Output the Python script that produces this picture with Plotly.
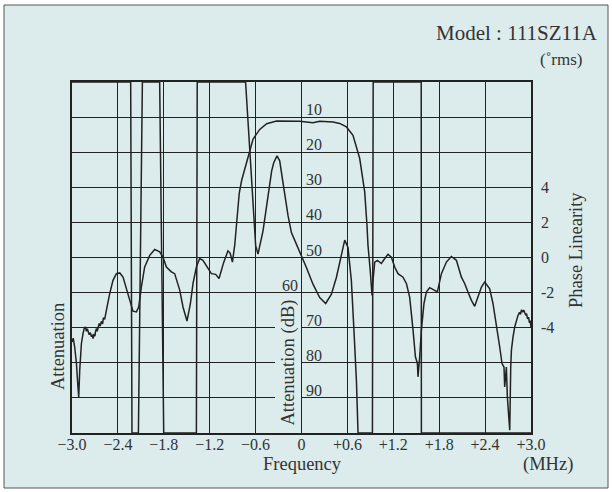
import plotly.graph_objects as go

# ---------------- data ----------------
FREQ_TICKS = [-3.0, -2.4, -1.8, -1.2, -0.6, 0.0, 0.6, 1.2, 1.8, 2.4, 3.0]
FREQ_TICK_TEXT = ["\u22123.0", "\u22122.4", "\u22121.8", "\u22121.2", "\u22120.6", "0",
                  "+0.6", "+1.2", "+1.8", "+2.4", "+3.0"]
ATT_LABELS = [10, 20, 30, 40, 50, 60, 70, 80, 90]
PHASE_TICKS = [-4, -2, 0, 2, 4]
PHASE_TICK_TEXT = ["-4", "-2", "0", "2", "4"]

# Attenuation (dB) vs frequency (MHz)
att_freq = [-3.000, -2.984, -2.965, -2.942, -2.922, -2.912, -2.899, -2.877, -2.856, -2.840,
            -2.825, -2.812, -2.800, -2.791, -2.775, -2.760, -2.746, -2.735, -2.725, -2.712,
            -2.700, -2.694, -2.680, -2.670, -2.660, -2.645, -2.632, -2.616, -2.600, -2.590,
            -2.573, -2.560, -2.550, -2.507, -2.464, -2.420, -2.376, -2.333, -2.289, -2.246,
            -2.203, -2.158, -2.128, -2.093, -2.050, -1.984, -1.919, -1.854, -1.810, -1.766,
            -1.701, -1.658, -1.592, -1.549, -1.497, -1.452, -1.418, -1.374, -1.331, -1.288,
            -1.222, -1.178, -1.122, -1.078, -1.017, -0.961, -0.932, -0.903, -0.873, -0.841,
            -0.814, -0.782, -0.720, -0.634, -0.546, -0.455, -0.328, -0.024, 0.150, 0.238,
            0.412, 0.499, 0.587, 0.673, 0.761, 0.826, 0.856, 0.869, 0.898, 0.922,
            0.935, 0.957, 0.992, 1.044, 1.088, 1.131, 1.175, 1.218, 1.261, 1.327,
            1.371, 1.414, 1.458, 1.489, 1.515, 1.523, 1.545, 1.567, 1.601, 1.633,
            1.676, 1.719, 1.776, 1.829, 1.894, 1.959, 2.025, 2.090, 2.133, 2.176,
            2.221, 2.264, 2.307, 2.352, 2.395, 2.460, 2.503, 2.548, 2.591, 2.621,
            2.647, 2.656, 2.678, 2.691, 2.708, 2.722, 2.735, 2.744, 2.765, 2.787,
            2.830, 2.850, 2.862, 2.875, 2.890, 2.905, 2.918, 2.930, 2.942, 2.955,
            2.968, 2.980, 2.990, 3.000]
att_db = [74.1, 73.0, 75.5, 80.2, 86.9, 89.7, 82.1, 74.5, 71.7, 70.2,
          69.8, 71.0, 70.3, 70.9, 72.0, 71.4, 72.6, 72.0, 73.1, 71.8,
          72.4, 71.2, 70.2, 71.0, 69.6, 68.8, 69.5, 68.2, 68.9, 67.2,
          67.6, 66.5, 65.0, 60.3, 56.5, 54.6, 54.4, 55.6, 58.9, 62.7,
          65.3, 65.5, 64.1, 58.4, 52.7, 49.4, 47.7, 48.4, 49.9, 52.7,
          54.1, 54.6, 59.3, 64.1, 68.1, 63.1, 57.4, 52.7, 50.3, 50.8,
          53.2, 54.6, 54.8, 56.0, 51.4, 48.1, 48.8, 51.3, 46.5, 38.0,
          31.7, 28.0, 22.9, 16.3, 13.5, 11.9, 11.1, 11.2, 11.6, 11.2,
          11.4, 11.8, 12.8, 15.2, 21.8, 31.3, 40.8, 46.5, 53.6, 60.8,
          56.5, 51.3, 50.8, 51.7, 50.3, 49.1, 49.9, 52.7, 54.6, 55.6,
          57.4, 61.3, 70.7, 78.3, 80.2, 84.0, 78.3, 70.7, 63.1, 59.8,
          58.6, 59.1, 59.8, 54.6, 51.3, 49.7, 50.8, 55.6, 57.4, 59.8,
          62.2, 63.9, 61.3, 58.4, 57.0, 58.9, 63.1, 68.8, 75.5, 80.2,
          81.2, 86.9, 81.2, 89.7, 94.5, 99.2, 81.2, 76.4, 72.6, 69.8,
          66.5, 65.6, 66.2, 64.9, 65.6, 65.0, 65.7, 66.3, 66.0, 67.5,
          67.0, 68.6, 68.0, 69.9]

# Phase linearity (deg rms) vs frequency (MHz); off-scale values clipped at +/-10
phase_freq = [-3.000, -2.233, -2.216, -2.132, -2.080, -1.854, -1.801, -1.374, -1.363, -0.731,
              -0.599, -0.569, -0.503, -0.416, -0.390, -0.363, -0.320, -0.285, -0.259, -0.242,
              -0.176, -0.132, -0.067, -0.001, 0.064, 0.150, 0.238, 0.316, 0.391, 0.456,
              0.522, 0.565, 0.608, 0.652, 0.686, 0.718, 0.739, 0.927, 0.937, 1.565,
              1.567, 3.000]
phase_deg = [10, 10, -10, -10, 10, 10, -10, -10, 10, 10,
             0.67, 0.19, 1.52, 4.27, 4.94, 5.40, 5.79, 5.51, 4.83, 4.27,
             2.38, 1.42, 0.76, 0.10, -0.57, -1.52, -2.28, -2.62, -2.09, -1.14,
             0.19, 0.99, 0.57, -1.33, -4.18, -7.03, -10, -10, 10, 10,
             -10, -10]

# ---------------- style ----------------
BG = "#dcebeb"
INK = "#222222"
TXT = "#333333"
SERIF = "Liberation Serif"
L, R, T, B = 72, 81, 82, 59
W, H = 612, 492
PW, PH = W - L - R, H - T - B


def px_x(px):
    return (px - L) / PW


def px_y(py):
    return (H - B - py) / PH


fig = go.Figure()
fig.add_trace(go.Scatter(x=att_freq, y=att_db, mode="lines",
                         line=dict(color=INK, width=1.5), showlegend=False,
                         name="Attenuation"))
fig.add_trace(go.Scatter(x=phase_freq, y=phase_deg, mode="lines", yaxis="y2",
                         line=dict(color=INK, width=1.5), showlegend=False,
                         name="Phase Linearity"))

annotations = []
for v in ATT_LABELS:
    left = v != 60
    annotations.append(dict(x=0, y=v, xref="x", yref="y", text=str(v), showarrow=False,
                            xanchor="left" if left else "right", yanchor="bottom",
                            xshift=2 if left else -2, yshift=-3,
                            font=dict(family=SERIF, size=16, color=TXT)))

annotations += [
    dict(x=px_x(600), y=px_y(33), xref="paper", yref="paper", text="Model : 111SZ11A",
         showarrow=False, xanchor="right", yanchor="middle",
         font=dict(family=SERIF, size=21, color=TXT)),
    dict(x=px_x(584), y=px_y(60), xref="paper", yref="paper", text="(\u02darms)",
         showarrow=False, xanchor="right", yanchor="middle",
         font=dict(family=SERIF, size=17, color=TXT)),
    dict(x=px_x(576), y=px_y(250), xref="paper", yref="paper", text="Phase Linearity",
         showarrow=False, textangle=-90, xanchor="center", yanchor="middle",
         font=dict(family=SERIF, size=18.5, color=TXT)),
    dict(x=px_x(58), y=px_y(347), xref="paper", yref="paper", text="Attenuation",
         showarrow=False, textangle=-90, xanchor="center", yanchor="middle",
         font=dict(family=SERIF, size=18.5, color=TXT)),
    dict(x=px_x(287.5), y=px_y(363), xref="paper", yref="paper", text="Attenuation (dB)",
         showarrow=False, textangle=-90, xanchor="center", yanchor="middle",
         bgcolor=BG, borderpad=2,
         font=dict(family=SERIF, size=18.5, color=TXT)),
    dict(x=px_x(302), y=px_y(464), xref="paper", yref="paper", text="Frequency",
         showarrow=False, xanchor="center", yanchor="middle",
         font=dict(family=SERIF, size=18.5, color=TXT)),
    dict(x=px_x(548), y=px_y(464), xref="paper", yref="paper", text="(MHz)",
         showarrow=False, xanchor="center", yanchor="middle",
         font=dict(family=SERIF, size=18.5, color=TXT)),
]

shapes = [dict(type="rect", xref="paper", yref="paper", layer="below",
               x0=px_x(4), x1=px_x(608), y0=px_y(488), y1=px_y(5),
               fillcolor=BG, line=dict(color="#555555", width=1))]

fig.update_layout(
    width=W, height=H,
    margin=dict(l=L, r=R, t=T, b=B, pad=0),
    paper_bgcolor="white", plot_bgcolor="rgba(0,0,0,0)",
    showlegend=False,
    annotations=annotations, shapes=shapes,
    xaxis=dict(range=[-3, 3], tickvals=FREQ_TICKS, ticktext=FREQ_TICK_TEXT,
               showgrid=True, gridcolor=INK, gridwidth=1.3, zeroline=False,
               showline=True, linecolor=INK, linewidth=1.5, mirror=True,
               ticks="", ticklen=0, ticklabelstandoff=-4,
               tickfont=dict(family=SERIF, size=16, color=TXT)),
    yaxis=dict(range=[100, 0], tickvals=list(range(0, 101, 10)),
               showgrid=True, gridcolor=INK, gridwidth=1.3, zeroline=False,
               showline=True, linecolor=INK, linewidth=1.5, mirror=True,
               showticklabels=False, ticks=""),
    yaxis2=dict(range=[-10, 10], overlaying="y", side="right",
                tickvals=PHASE_TICKS, ticktext=PHASE_TICK_TEXT,
                showgrid=False, zeroline=False, showline=False, ticks="", ticklen=0,
                ticklabelstandoff=9,
                tickfont=dict(family=SERIF, size=16, color=TXT)),
)

fig.write_html("out.html", config={"displayModeBar": False},
               post_script="document.body.style.margin='0';document.body.style.padding='0';")
